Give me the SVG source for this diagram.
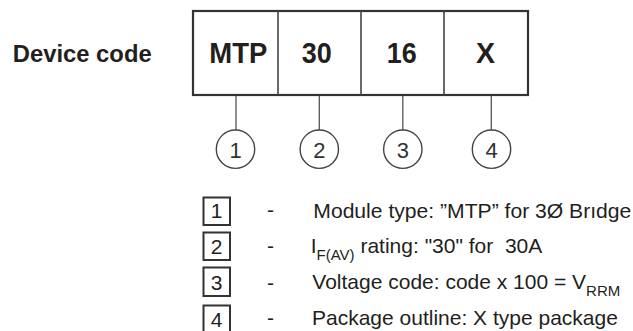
<svg xmlns="http://www.w3.org/2000/svg" width="633" height="331" viewBox="0 0 633 331">
<style>
.lbl{font-family:"Liberation Sans",Arial,sans-serif;fill:#231f20}
.b{font-weight:bold}
.frame{fill:#fff;stroke:#333;stroke-width:2.2}
.div{stroke:#444;stroke-width:1.6;fill:none}
.conn{stroke:#555;stroke-width:1.3;fill:none}
.circ{fill:#fff;stroke:#444;stroke-width:1.4}
.lbox{fill:#fff;stroke:#333;stroke-width:2}
.cnum{font-family:"Liberation Sans",Arial,sans-serif;fill:#333;font-size:22px;text-anchor:middle}
.leg{font-family:"Liberation Sans",Arial,sans-serif;fill:#231f20;font-size:21px}
</style>
<rect width="633" height="331" fill="#fff"/>
<text class="lbl b" x="12.7" y="61.7" font-size="24.5" textLength="139" lengthAdjust="spacingAndGlyphs">Device code</text>
<g id="code-box">
<rect class="frame" x="193" y="11" width="335" height="84"/>
<line class="div" x1="278" y1="11" x2="278" y2="95"/>
<line class="div" x1="361" y1="11" x2="361" y2="95"/>
<line class="div" x1="444" y1="11" x2="444" y2="95"/>
</g>
<g id="field-mtp"><text class="lbl b" x="209.3" y="63.3" font-size="29" textLength="58" lengthAdjust="spacingAndGlyphs">MTP</text></g>
<g id="field-30"><text class="lbl b" x="301.7" y="63.3" font-size="29" textLength="30" lengthAdjust="spacingAndGlyphs">30</text></g>
<g id="field-16"><text class="lbl b" x="386.7" y="63.3" font-size="29" textLength="30" lengthAdjust="spacingAndGlyphs">16</text></g>
<g id="field-x"><text class="lbl b" x="476" y="63.3" font-size="29" textLength="19" lengthAdjust="spacingAndGlyphs">X</text></g>
<g id="connectors">
<line class="conn" x1="236" y1="96" x2="236" y2="130"/>
<line class="conn" x1="319.3" y1="96" x2="319.3" y2="130"/>
<line class="conn" x1="402.8" y1="96" x2="402.8" y2="130"/>
<line class="conn" x1="491.3" y1="96" x2="491.3" y2="130"/>
</g>
<g id="circle-1"><circle class="circ" cx="235.5" cy="149.2" r="19.2"/><text class="cnum" x="235.5" y="158.3">1</text></g>
<g id="circle-2"><circle class="circ" cx="319.3" cy="149.2" r="19.2"/><text class="cnum" x="319.3" y="158.3">2</text></g>
<g id="circle-3"><circle class="circ" cx="402.8" cy="149.2" r="19.2"/><text class="cnum" x="402.8" y="158.3">3</text></g>
<g id="circle-4"><circle class="circ" cx="491.5" cy="149.2" r="19.2"/><text class="cnum" x="491.5" y="158.3">4</text></g>
<g id="legend-1">
<rect class="lbox" x="203.5" y="197.5" width="26.5" height="27.5"/>
<text class="leg" x="216.7" y="218.3" text-anchor="middle">1</text>
<text class="leg" x="270.5" y="216.5" text-anchor="middle">-</text>
<text class="leg" x="313.3" y="217.5" textLength="318" lengthAdjust="spacingAndGlyphs">Module type: ”MTP” for 3Ø Brıdge</text>
</g>
<g id="legend-2">
<rect class="lbox" x="203.5" y="232.5" width="26.5" height="27.5"/>
<text class="leg" x="216.7" y="254" text-anchor="middle">2</text>
<text class="leg" x="270.5" y="252.5" text-anchor="middle">-</text>
<text class="leg" x="310.7" y="253">I<tspan font-size="15" dy="6.5">F(AV)</tspan><tspan dy="-6.5"> rating: "30" for &#160;30A</tspan></text>
</g>
<g id="legend-3">
<rect class="lbox" x="203.5" y="267.5" width="26.5" height="28.5"/>
<text class="leg" x="216.7" y="290" text-anchor="middle">3</text>
<text class="leg" x="270.5" y="289.5" text-anchor="middle">-</text>
<text class="leg" x="312.3" y="289">Voltage code: code x 100 = V<tspan font-size="15" dy="6.5">RRM</tspan></text>
</g>
<g id="legend-4">
<rect class="lbox" x="203.5" y="305.5" width="26.5" height="29"/>
<text class="leg" x="216.7" y="326.7" text-anchor="middle">4</text>
<text class="leg" x="270.5" y="325" text-anchor="middle">-</text>
<text class="leg" x="312" y="324.5">Package outline: X type package</text>
</g>
</svg>
